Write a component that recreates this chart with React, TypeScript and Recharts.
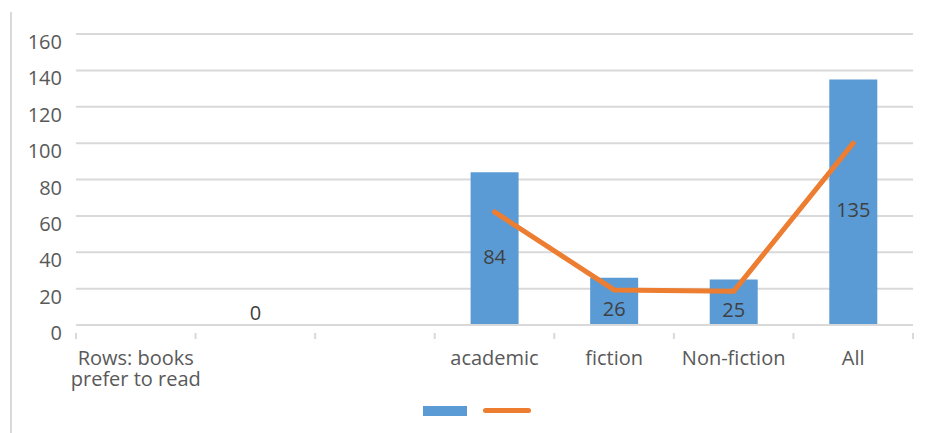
import React from 'react';
import { ComposedChart, Bar, Line, XAxis, YAxis, CartesianGrid, LabelList, Legend } from 'recharts';

const categories = ['Rows: books\nprefer to read', '', '', 'academic', 'fiction', 'Non-fiction', 'All'];
const counts = [null, 0, null, 84, 26, 25, 135];
const shares = [null, null, null, 62.2, 19.3, 18.5, 100];
const yTicks = [0, 20, 40, 60, 80, 100, 120, 140, 160];

const data = categories.map((name, i) => ({
  name,
  count: counts[i],
  share: shares[i],
  // zero-height bars get no label from the Bar, so carry them on a hidden line
  zero: counts[i] === 0 ? 0 : null,
}));

const W = 925;
const H = 433;
const PLOT_LEFT = 76;
const PLOT_RIGHT = 913;
const HALF_BAND = (PLOT_RIGHT - PLOT_LEFT) / categories.length / 2;
const FONT = '"Open Sans", sans-serif';
const FS = 20;
const AXIS_GREY = '#d9d9d9';
const TEXT_GREY = '#595959';

const YTick = (props: any) => {
  const { x, y, payload } = props;
  return (
    <text x={x} y={y + 8} dy="0.35em" textAnchor="end" fill={TEXT_GREY} fontSize={FS} fontFamily={FONT}>
      {payload.value}
    </text>
  );
};

const XTick = (props: any) => {
  const { x, y, payload, index } = props;
  const lines = String(payload.value).split('\n');
  const isLast = index === categories.length - 1;
  return (
    <g>
      <line x1={x - HALF_BAND} x2={x - HALF_BAND} y1={y} y2={y + 6} stroke={AXIS_GREY} strokeWidth={2} />
      {isLast && <line x1={x + HALF_BAND} x2={x + HALF_BAND} y1={y} y2={y + 6} stroke={AXIS_GREY} strokeWidth={2} />}
      <text x={x} y={y + 32} textAnchor="middle" fill={TEXT_GREY} fontSize={FS} fontFamily={FONT}>
        {lines.map((l, i) => (
          <tspan key={i} x={x} dy={i === 0 ? 0 : 21}>{l}</tspan>
        ))}
      </text>
    </g>
  );
};

const BarLabel = (props: any) => {
  const { x, y, width, height, value } = props;
  if (value === null || value === undefined) return null;
  return (
    <text x={x + width / 2} y={y + height / 2 + 8} dy="0.35em" textAnchor="middle" fill="#404040" fontSize={FS} fontFamily={FONT}>
      {value}
    </text>
  );
};

const ZeroLabel = (props: any) => {
  const { x, y, value } = props;
  if (value === null || value === undefined) return null;
  return (
    <text x={x} y={y - 12} dy="0.35em" textAnchor="middle" fill="#404040" fontSize={FS} fontFamily={FONT}>
      {value}
    </text>
  );
};

const LegendContent = () => (
  <div style={{ position: 'relative', width: W, height: 38 }}>
    <div style={{ position: 'absolute', left: 423, top: 16, width: 44, height: 10, background: '#5b9bd5' }} />
    <div style={{ position: 'absolute', left: 483, top: 18, width: 48, height: 5, borderRadius: 3, background: '#ed7d31' }} />
  </div>
);

export default function App() {
  return (
    <div style={{ position: 'absolute', left: 0, top: 0, width: W, height: H, background: '#fff' }}>
      <div style={{ position: 'absolute', left: 10, top: 12, width: 2, height: H - 12, background: AXIS_GREY }} />
      <ComposedChart
        width={W}
        height={H}
        data={data}
        margin={{ top: 34, right: W - PLOT_RIGHT, bottom: 5, left: 0 }}
        barCategoryGap="30%"
      >
        <CartesianGrid vertical={false} stroke={AXIS_GREY} strokeWidth={2} />
        <XAxis
          dataKey="name"
          height={65}
          axisLine={{ stroke: AXIS_GREY, strokeWidth: 2 }}
          tickLine={false}
          interval={0}
          tick={<XTick />}
        />
        <YAxis
          width={PLOT_LEFT}
          domain={[0, 160]}
          ticks={yTicks}
          axisLine={false}
          tickLine={false}
          tickSize={0}
          tickMargin={14}
          tick={<YTick />}
        />
        <Legend verticalAlign="bottom" wrapperStyle={{ left: 0, width: W, height: 38 }} content={<LegendContent />} />
        <Bar dataKey="count" fill="#5b9bd5" isAnimationActive={false}>
          <LabelList dataKey="count" content={<BarLabel />} />
        </Bar>
        <Line
          dataKey="share"
          stroke="#ed7d31"
          strokeWidth={5}
          strokeLinecap="round"
          strokeLinejoin="round"
          dot={false}
          activeDot={false}
          isAnimationActive={false}
        />
        <Line
          dataKey="zero"
          stroke="none"
          dot={false}
          activeDot={false}
          legendType="none"
          isAnimationActive={false}
        >
          <LabelList dataKey="zero" content={<ZeroLabel />} />
        </Line>
      </ComposedChart>
    </div>
  );
}
